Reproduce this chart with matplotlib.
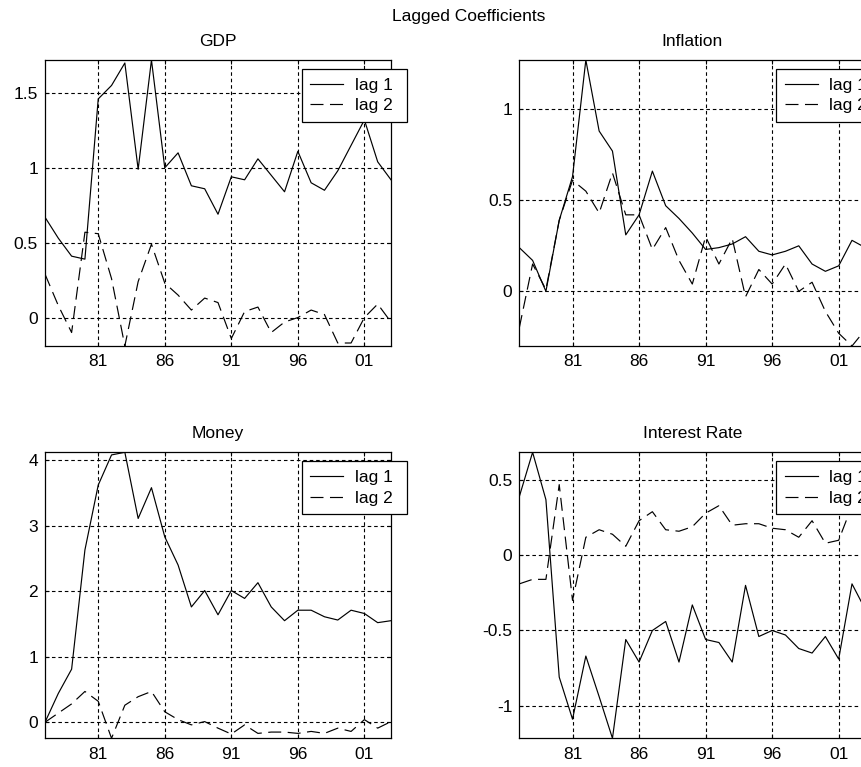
import matplotlib.pyplot as plt

plt.rcParams["font.family"] = ["Liberation Sans", "DejaVu Sans"]
plt.rcParams["font.size"] = 12.5
plt.rcParams["axes.unicode_minus"] = False

# lagged coefficients, one estimate per year
years = list(range(1977, 2004))
tick_years = [1981, 1986, 1991, 1996, 2001]
tick_labels = ["81", "86", "91", "96", "01"]

gdp_lag1 = [0.67, 0.53, 0.41, 0.39, 1.46, 1.55, 1.70, 0.99, 1.72, 1.00,
            1.10, 0.88, 0.86, 0.69, 0.94, 0.92, 1.06, 0.95, 0.84, 1.11,
            0.90, 0.85, 0.98, 1.15, 1.32, 1.04, 0.92]
gdp_lag2 = [0.29, 0.08, -0.10, 0.57, 0.56, 0.26, -0.19, 0.24, 0.49, 0.23,
            0.15, 0.05, 0.13, 0.10, -0.14, 0.04, 0.07, -0.10, -0.03, 0.00,
            0.05, 0.02, -0.17, -0.17, 0.00, 0.09, -0.03]

infl_lag1 = [0.24, 0.17, 0.00, 0.39, 0.63, 1.27, 0.88, 0.77, 0.31, 0.42,
             0.66, 0.47, 0.40, 0.32, 0.23, 0.24, 0.26, 0.30, 0.22, 0.20,
             0.22, 0.25, 0.15, 0.11, 0.14, 0.28, 0.24]
infl_lag2 = [-0.20, 0.15, 0.01, 0.39, 0.61, 0.55, 0.43, 0.65, 0.42, 0.42,
             0.23, 0.35, 0.17, 0.04, 0.30, 0.15, 0.29, -0.03, 0.12, 0.04,
             0.15, 0.00, 0.05, -0.11, -0.23, -0.30, -0.21]

money_lag1 = [0.00, 0.44, 0.81, 2.63, 3.62, 4.08, 4.12, 3.11, 3.58, 2.83,
              2.40, 1.76, 2.01, 1.64, 2.01, 1.89, 2.13, 1.76, 1.55, 1.71,
              1.71, 1.61, 1.56, 1.71, 1.66, 1.52, 1.55]
money_lag2 = [0.00, 0.14, 0.28, 0.47, 0.32, -0.245, 0.26, 0.39, 0.47, 0.16,
              0.04, -0.04, 0.01, -0.09, -0.18, -0.04, -0.17, -0.15, -0.15, -0.17,
              -0.14, -0.17, -0.09, -0.14, 0.04, -0.09, 0.01]

rate_lag1 = [0.39, 0.685, 0.37, -0.81, -1.09, -0.67, -0.94, -1.217, -0.56, -0.71,
             -0.50, -0.44, -0.71, -0.33, -0.56, -0.58, -0.71, -0.20, -0.54, -0.50,
             -0.53, -0.62, -0.65, -0.54, -0.69, -0.19, -0.36]
rate_lag2 = [-0.19, -0.16, -0.16, 0.47, -0.30, 0.12, 0.17, 0.14, 0.06, 0.23,
             0.29, 0.17, 0.16, 0.19, 0.28, 0.33, 0.20, 0.21, 0.21, 0.18,
             0.17, 0.12, 0.23, 0.08, 0.10, 0.33, 0.35]

panels = [
    ("GDP", gdp_lag1, gdp_lag2, [0, 0.5, 1, 1.5]),
    ("Inflation", infl_lag1, infl_lag2, [0, 0.5, 1]),
    ("Money", money_lag1, money_lag2, [0, 1, 2, 3, 4]),
    ("Interest Rate", rate_lag1, rate_lag2, [-1, -0.5, 0, 0.5]),
]

W, H = 862, 767
# axes boxes in pixels: left, top
boxes = [(45, 60), (519.3, 60), (45, 452.3), (519.3, 452.3)]
ax_w, ax_h = 346, 286

# legend box in axes fractions (sticks out past the right spine)
leg_w, leg_h = 105 / ax_w, 52 / ax_h


def draw_panel(fig, box, title, lag1, lag2, yticks):
    left, top = box
    ax = fig.add_axes([left / W, 1 - (top + ax_h) / H, ax_w / W, ax_h / H])
    ax.plot(years, lag1, color="black", lw=0.85, label="lag 1")
    line2, = ax.plot(years, lag2, color="black", lw=0.85, label="lag 2")
    line2.set_dashes([11, 5.5])

    ax.set_xlim(1977, 2003)
    lo = min(min(lag1), min(lag2))
    hi = max(max(lag1), max(lag2))
    ax.set_ylim(lo, hi)
    ax.set_xticks(tick_years)
    ax.set_xticklabels(tick_labels)
    ax.set_yticks(yticks)
    ax.set_yticklabels(["%g" % v for v in yticks])

    ax.grid(True, color="black", lw=0.8, linestyle=(0, (3.2, 2.6)))
    ax.tick_params(direction="in", length=3, top=True, right=True)
    ax.tick_params(axis="x", pad=6)
    ax.tick_params(axis="y", pad=5)
    for s in ax.spines.values():
        s.set_linewidth(0.9)

    ax.set_title(title, fontsize=12.5, pad=10)

    leg = ax.legend(loc="upper left",
                    bbox_to_anchor=(0.742, 0.968 - leg_h, leg_w, leg_h),
                    mode="expand", borderaxespad=0, fancybox=False,
                    edgecolor="black", framealpha=1, handlelength=1.9,
                    handletextpad=0.65, borderpad=0.5, labelspacing=0.3,
                    fontsize=12.5)
    leg.get_frame().set_linewidth(0.9)
    return ax


fig = plt.figure(figsize=(W / 100, H / 100), dpi=100)
for box, (title, lag1, lag2, yticks) in zip(boxes, panels):
    draw_panel(fig, box, title, lag1, lag2, yticks)

fig.text(469 / W, 1 - 17 / H, "Lagged Coefficients", ha="center", va="center",
         fontsize=12.5)

fig.savefig("out.png", dpi=100)
